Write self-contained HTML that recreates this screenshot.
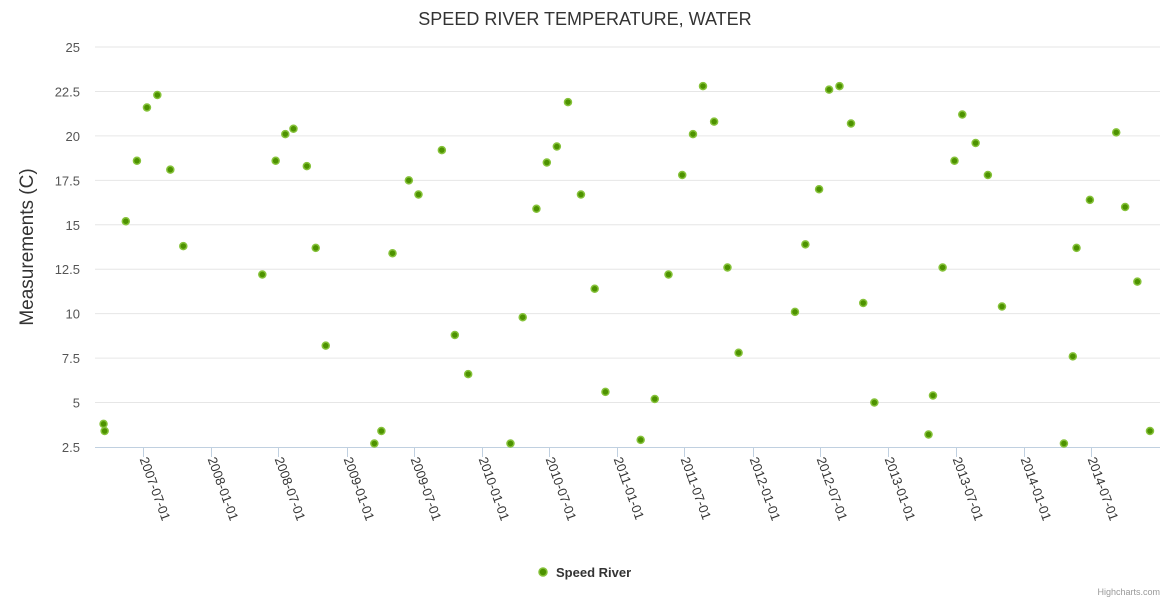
<!DOCTYPE html>
<html><head><meta charset="utf-8"><style>
body{margin:0;background:#fff;font-family:"Liberation Sans",sans-serif}
svg text{font-family:"Liberation Sans",sans-serif}
</style></head><body>
<svg id="c" width="1170" height="600" xmlns="http://www.w3.org/2000/svg">
<text x="585" y="25" text-anchor="middle" font-size="18" fill="#333">SPEED RIVER TEMPERATURE, WATER</text>
<text transform="translate(33,247) rotate(-90)" text-anchor="middle" font-size="19" fill="#333">Measurements (C)</text>
<g id="grid"></g><g id="xax"></g><g id="pts"></g>
<g>
<circle cx="543" cy="572" r="4" fill="#4d9200" stroke="#86c23a" stroke-width="1.5"/>
<text x="556" y="577" font-size="13" font-weight="bold" fill="#333">Speed River</text>
</g>
<text x="1160" y="595" text-anchor="end" font-size="9" fill="#999">Highcharts.com</text>
</svg>
<script>
const dates=["2007-03-18","2007-03-21","2007-05-17","2007-06-16","2007-07-13","2007-08-10","2007-09-14","2007-10-19","2008-05-19","2008-06-24","2008-07-20","2008-08-11","2008-09-16","2008-10-10","2008-11-06","2009-03-17","2009-04-05","2009-05-05","2009-06-18","2009-07-14","2009-09-15","2009-10-20","2009-11-25","2010-03-19","2010-04-21","2010-05-28","2010-06-25","2010-07-22","2010-08-21","2010-09-25","2010-11-01","2010-11-30","2011-03-05","2011-04-12","2011-05-19","2011-06-25","2011-07-24","2011-08-20","2011-09-19","2011-10-25","2011-11-24","2012-04-24","2012-05-22","2012-06-28","2012-07-25","2012-08-22","2012-09-22","2012-10-25","2012-11-24","2013-04-19","2013-05-01","2013-05-27","2013-06-28","2013-07-19","2013-08-24","2013-09-26","2013-11-03","2014-04-19","2014-05-13","2014-05-23","2014-06-28","2014-09-07","2014-10-01","2014-11-03","2014-12-07"];
const temps=[3.8,3.4,15.2,18.6,21.6,22.3,18.1,13.8,12.2,18.6,20.1,20.4,18.3,13.7,8.2,2.7,3.4,13.4,17.5,16.7,19.2,8.8,6.6,2.7,9.8,15.9,18.5,19.4,21.9,16.7,11.4,5.6,2.9,5.2,12.2,17.8,20.1,22.8,20.8,12.6,7.8,10.1,13.9,17.0,22.6,22.8,20.7,10.6,5.0,3.2,5.4,12.6,18.6,21.2,19.6,17.8,10.4,2.7,7.6,13.7,16.4,20.2,16.0,11.8,3.4];
const yTicks=[2.5,5,7.5,10,12.5,15,17.5,20,22.5,25];
const xTicks=["2007-07-01","2008-01-01","2008-07-01","2009-01-01","2009-07-01","2010-01-01","2010-07-01","2011-01-01","2011-07-01","2012-01-01","2012-07-01","2013-01-01","2013-07-01","2014-01-01","2014-07-01"];
const NS="http://www.w3.org/2000/svg";
const L=95,R=1160,T=47,B=447;
const t0=Date.parse("2007-07-01"),t1=Date.parse("2014-07-01");
function xs(d){return 142.5+(Date.parse(d)-t0)/(t1-t0)*(1091-142.5);}
function ys(v){return B-(v-2.5)/(25-2.5)*(B-T);}
function mk(tag,at,parent){const e=document.createElementNS(NS,tag);for(const k in at)e.setAttribute(k,at[k]);parent.appendChild(e);return e;}
const grid=document.getElementById('grid'),xax=document.getElementById('xax'),pts=document.getElementById('pts');
yTicks.forEach(v=>{
 const y=ys(v);
 if(v!==2.5){const g=mk('line',{x1:L,x2:R,y1:y,y2:y,stroke:'#e6e6e6','stroke-width':1},grid);
 
 }
 const t=mk('text',{x:80,y:y+5,'text-anchor':'end','font-size':13,fill:'#555'},grid);
 
 
 t.textContent=v;
});
const ax=mk('line',{x1:L,x2:R,y1:B+0.5,y2:B+0.5,stroke:'#c0d0e0','stroke-width':1},xax);


xTicks.forEach(d=>{
 const x=Math.round(xs(d))+0.5;
 const tk=mk('line',{x1:x,x2:x,y1:B,y2:B+10,stroke:'#c0d0e0'},xax);
 
 
 const t=mk('text',{transform:`translate(${x-4},${B+12}) rotate(70)`,'font-size':13,fill:'#333'},xax);
 
 
 t.textContent=d;
});
dates.forEach((d,i)=>{
 const c=mk('circle',{cx:xs(d),cy:ys(temps[i]),r:3.5,fill:'#4d9200',stroke:'#86c23a','stroke-width':1.5},pts);
 
 
});
</script>
</body></html>
